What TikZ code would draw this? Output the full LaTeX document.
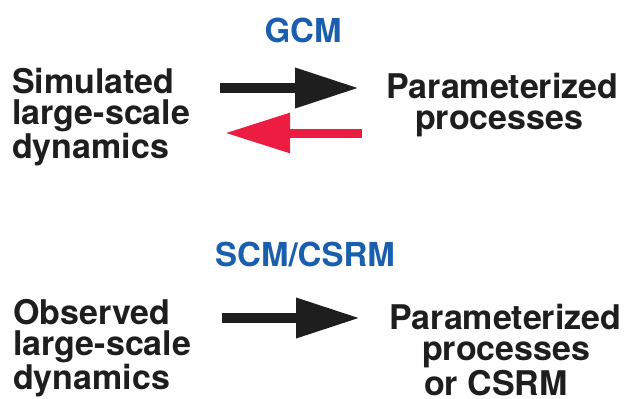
\documentclass[tikz,border=0pt]{standalone}
\usepackage{fontspec}
\setmainfont{TeX Gyre Heros}
\usetikzlibrary{arrows.meta,positioning}
\definecolor{ink}{HTML}{1E1E1E}
\definecolor{gcmblue}{HTML}{1A5EAE}
\definecolor{backred}{HTML}{EC1D40}
\tikzset{
  term/.style={inner sep=0pt,text=ink,align=left,anchor=north west,
    font=\bfseries\fontsize{34}{31}\selectfont},
  title/.style={inner sep=0pt,text=gcmblue,anchor=north,
    font=\bfseries\fontsize{33}{32}\selectfont},
  flow/.style={draw=ink,line width=10pt,-{Triangle[length=64pt,width=38pt]}},
  feedback/.style={draw=backred,line width=9pt,-{Triangle[length=65pt,width=38pt]}}}

\begin{document}
\begin{tikzpicture}[x=1pt,y=-1pt]
\useasboundingbox (0,0) rectangle (625,399);

\node[title] (gcm) at (303,18) {GCM};
\node[term] (sim) at (12,68) {Simulated\\large-scale\\dynamics};
\node[term] (param) at (386,73) {Parameterized\\\hspace*{29pt}processes};
\coordinate (f1a) at (220,88);\coordinate (f1b) at (359,88);
\coordinate (f2a) at (362,133);\coordinate (f2b) at (225,133);
\draw[flow] (f1a)--(f1b);
\draw[feedback] (f2a)--(f2b);

\node[title] (scm) at (305,242) {SCM/CSRM};
\node[term] (obs) at (13,299) {Observed\\large-scale\\dynamics};
\node[term] (paramcsrm) at (389,304) {Parameterized\\\hspace*{33pt}processes\\[1pt]\hspace*{35pt}or CSRM};
\coordinate (f3a) at (222,318);\coordinate (f3b) at (360,318);
\draw[flow] (f3a)--(f3b);
\end{tikzpicture}
\end{document}
